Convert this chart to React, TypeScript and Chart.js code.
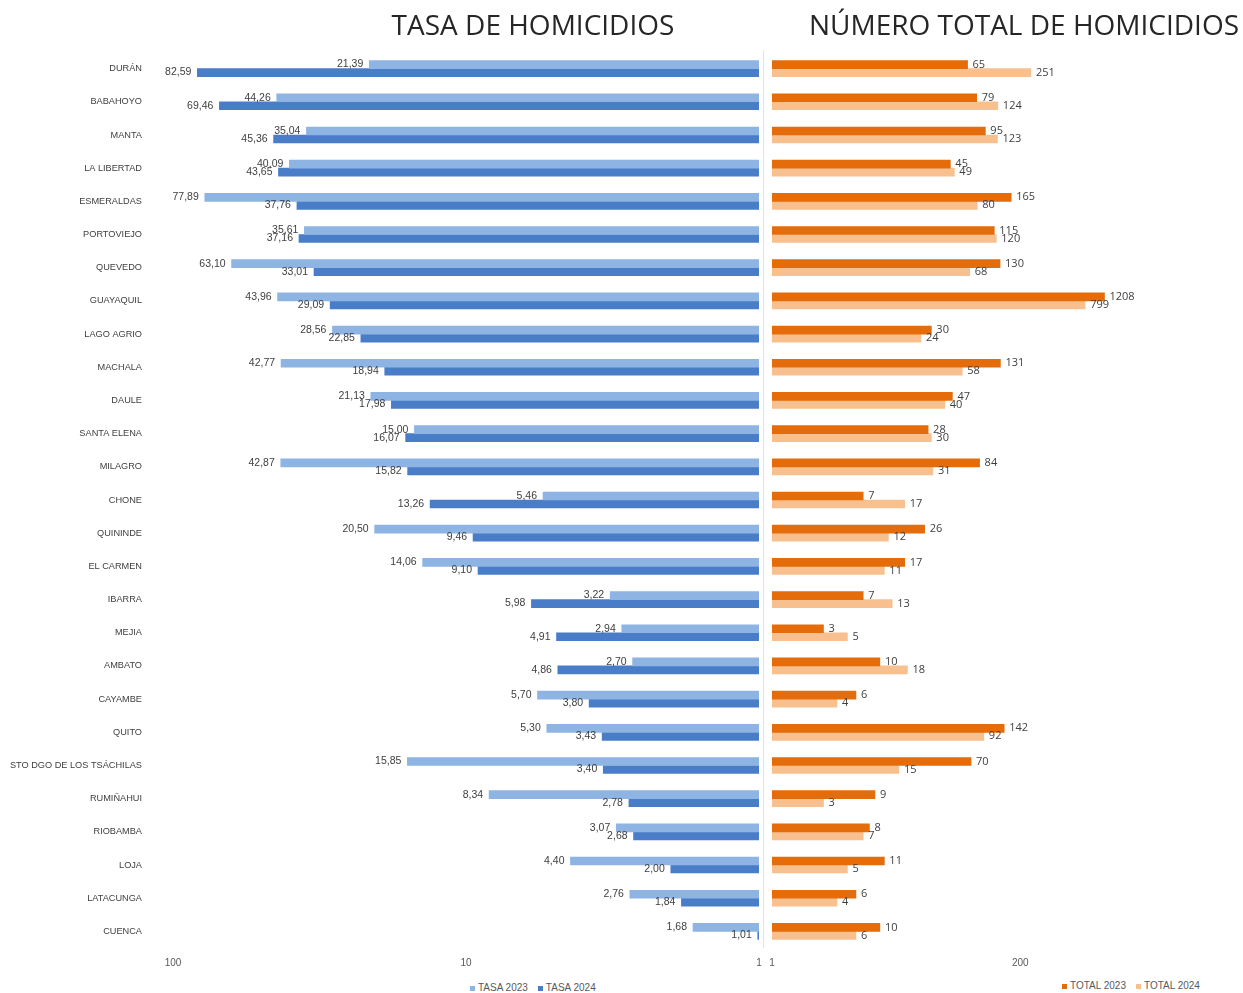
import React, { useEffect, useRef } from "react";
import { Chart, registerables } from "chart.js";

Chart.register(...registerables);

const CATEGORIES = [
  "DURÁN", "BABAHOYO", "MANTA", "LA LIBERTAD", "ESMERALDAS", "PORTOVIEJO", "QUEVEDO",
  "GUAYAQUIL", "LAGO AGRIO", "MACHALA", "DAULE", "SANTA ELENA", "MILAGRO", "CHONE",
  "QUININDE", "EL CARMEN", "IBARRA", "MEJIA", "AMBATO", "CAYAMBE", "QUITO",
  "STO DGO DE LOS TSÁCHILAS", "RUMIÑAHUI", "RIOBAMBA", "LOJA", "LATACUNGA", "CUENCA",
];

const TASA_2023 = [
  21.39, 44.26, 35.04, 40.09, 77.89, 35.61, 63.10, 43.96, 28.56, 42.77, 21.13, 15.00, 42.87, 5.46,
  20.50, 14.06, 3.22, 2.94, 2.70, 5.70, 5.30, 15.85, 8.34, 3.07, 4.40, 2.76, 1.68,
];
const TASA_2024 = [
  82.59, 69.46, 45.36, 43.65, 37.76, 37.16, 33.01, 29.09, 22.85, 18.94, 17.98, 16.07, 15.82, 13.26,
  9.46, 9.10, 5.98, 4.91, 4.86, 3.80, 3.43, 3.40, 2.78, 2.68, 2.00, 1.84, 1.01,
];
const TOTAL_2023 = [
  65, 79, 95, 45, 165, 115, 130, 1208, 30, 131, 47, 28, 84, 7, 26, 17, 7, 3, 10, 6, 142, 70, 9, 8, 11, 6, 10,
];
const TOTAL_2024 = [
  251, 124, 123, 49, 80, 120, 68, 799, 24, 58, 40, 30, 31, 17, 12, 11, 13, 5, 18, 4, 92, 15, 3, 7, 5, 4, 6,
];

const TASA_TICKS = [1, 10, 100];
const TOTAL_TICKS = [1, 200];

const C_TASA_23 = "#8DB4E2";
const C_TASA_24 = "#4A7DC8";
const C_TOTAL_23 = "#E46C0A";
const C_TOTAL_24 = "#F8C08E";

const fmtTasa = (v: number) => v.toFixed(2).replace(".", ",");
const fmtTotal = (v: number) => String(v);

function labelPlugin(side: "left" | "right", font: string, fmt: (v: number) => string, gap: number) {
  return {
    id: "valueLabels_" + side,
    afterDatasetsDraw(chart: any) {
      const ctx = chart.ctx;
      ctx.save();
      ctx.font = font;
      ctx.fillStyle = "#404040";
      ctx.textBaseline = "middle";
      ctx.textAlign = side === "left" ? "right" : "left";
      chart.data.datasets.forEach((ds: any, di: number) => {
        const meta = chart.getDatasetMeta(di);
        meta.data.forEach((el: any, i: number) => {
          const v = ds.data[i] as number;
          const x = side === "left" ? el.x - gap : el.x + gap;
          ctx.fillText(fmt(v), x, el.y);
        });
      });
      ctx.restore();
    },
  };
}

const catFont = { family: "'Liberation Sans', Arial, sans-serif", size: 9.2 };
const tickFont = { family: "'Liberation Sans', Arial, sans-serif", size: 10 };

function LeftChart() {
  const ref = useRef<HTMLCanvasElement | null>(null);
  useEffect(() => {
    if (!ref.current) return;
    const chart = new Chart(ref.current, {
      type: "bar",
      data: {
        labels: CATEGORIES,
        datasets: [
          { label: "TASA 2023", data: TASA_2023, backgroundColor: C_TASA_23, barThickness: 8 },
          { label: "TASA 2024", data: TASA_2024, backgroundColor: C_TASA_24, barThickness: 8 },
        ],
      },
      options: {
        indexAxis: "y",
        responsive: false,
        animation: false,
        layout: { padding: { top: 52, right: 6, left: 0, bottom: 0 } },
        plugins: { legend: { display: false }, tooltip: { enabled: false } },
        scales: {
          x: {
            type: "logarithmic",
            reverse: true,
            min: 1,
            max: 100,
            grid: { display: false, drawTicks: false },
            border: { display: false },
            afterBuildTicks: (s: any) => {
              s.ticks = TASA_TICKS.map((v) => ({ value: v }));
            },
            ticks: {
              autoSkip: false,
              maxRotation: 0,
              padding: 9,
              font: tickFont,
              color: "#595959",
              callback: (v: any) => String(v),
            },
            afterFit: (s: any) => {
              s.height = 30;
              s.paddingLeft = 0;
              s.paddingRight = 0;
            },
          },
          y: {
            grid: { display: false, drawTicks: false },
            border: { display: false },
            ticks: { padding: 31, autoSkip: false, font: catFont, color: "#404040" },
            afterFit: (s: any) => {
              s.width = 173;
              s.paddingTop = 0;
              s.paddingBottom = 0;
            },
          },
        },
      } as any,
      plugins: [labelPlugin("left", "10.5px 'Liberation Sans', Arial, sans-serif", fmtTasa, 6)],
    });
    return () => chart.destroy();
  }, []);
  return <canvas ref={ref} width={765} height={978} style={{ position: "absolute", left: 0, top: 0 }} />;
}

function RightChart() {
  const ref = useRef<HTMLCanvasElement | null>(null);
  useEffect(() => {
    if (!ref.current) return;
    const chart = new Chart(ref.current, {
      type: "bar",
      data: {
        labels: CATEGORIES,
        datasets: [
          { label: "TOTAL 2023", data: TOTAL_2023, backgroundColor: C_TOTAL_23, barThickness: 8 },
          { label: "TOTAL 2024", data: TOTAL_2024, backgroundColor: C_TOTAL_24, barThickness: 8 },
        ],
      },
      options: {
        indexAxis: "y",
        responsive: false,
        animation: false,
        layout: { padding: { top: 52, right: 7, left: 7, bottom: 0 } },
        plugins: { legend: { display: false }, tooltip: { enabled: false } },
        scales: {
          x: {
            type: "logarithmic",
            min: 1,
            max: 20000,
            grid: { display: false, drawTicks: false },
            border: { display: false },
            afterBuildTicks: (s: any) => {
              s.ticks = TOTAL_TICKS.map((v) => ({ value: v }));
            },
            ticks: {
              autoSkip: false,
              maxRotation: 0,
              padding: 9,
              font: tickFont,
              color: "#595959",
              callback: (v: any) => String(v),
            },
            afterFit: (s: any) => {
              s.height = 30;
              s.paddingLeft = 0;
              s.paddingRight = 0;
            },
          },
          y: { display: false },
        },
      } as any,
      plugins: [labelPlugin("right", "11px 'Open Sans', sans-serif", fmtTotal, 5)],
    });
    return () => chart.destroy();
  }, []);
  return <canvas ref={ref} width={478} height={978} style={{ position: "absolute", left: 765, top: 0 }} />;
}

const titleStyle: React.CSSProperties = {
  position: "absolute",
  fontFamily: "'Open Sans', sans-serif",
  fontSize: 28,
  lineHeight: "28px",
  color: "#262626",
  whiteSpace: "nowrap",
  textAlign: "center",
};

const legendText: React.CSSProperties = {
  position: "absolute",
  fontFamily: "'Liberation Sans', Arial, sans-serif",
  fontSize: 10,
  lineHeight: "10px",
  color: "#595959",
  whiteSpace: "nowrap",
  display: "flex",
  alignItems: "center",
};

function Swatch({ color }: { color: string }) {
  return <span style={{ display: "inline-block", width: 5, height: 5, background: color, marginRight: 3 }} />;
}

export default function App() {
  return (
    <div style={{ position: "absolute", left: 0, top: 0, width: 1243, height: 993, background: "#fff", overflow: "hidden" }}>
      <LeftChart />
      <RightChart />
      <div style={{ position: "absolute", left: 763, top: 50, width: 1, height: 898, background: "#e4e4e4" }} />
      <div style={{ ...titleStyle, left: 333, width: 400, top: 10 }}>TASA DE HOMICIDIOS</div>
      <div style={{ ...titleStyle, left: 774, width: 500, top: 10 }}>NÚMERO TOTAL DE HOMICIDIOS</div>
      <div style={{ ...legendText, left: 470, top: 983 }}>
        <Swatch color={C_TASA_23} />
        <span style={{ marginRight: 10 }}>TASA 2023</span>
        <Swatch color={C_TASA_24} />
        <span>TASA 2024</span>
      </div>
      <div style={{ ...legendText, left: 1062, top: 981 }}>
        <Swatch color={C_TOTAL_23} />
        <span style={{ marginRight: 10 }}>TOTAL 2023</span>
        <Swatch color={C_TOTAL_24} />
        <span>TOTAL 2024</span>
      </div>
    </div>
  );
}
